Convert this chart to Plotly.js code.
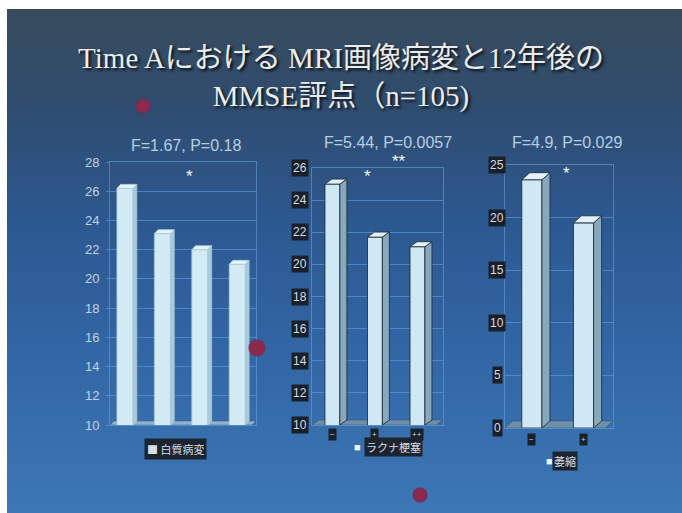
<!DOCTYPE html>
<html><head><meta charset="utf-8">
<script src="https://cdn.plot.ly/plotly-3.0.1.min.js"></script>
<style>
html,body{margin:0;padding:0;background:#fff;}
#wrap{position:relative;width:682px;height:513px;overflow:hidden;background:#fff;}
#bg{position:absolute;left:7px;top:9px;width:675px;height:504px;
background:linear-gradient(180deg,#374b5c 0%,#2f4d70 20%,#2c5890 42%,#3266a5 68%,#3d77b5 100%);}
#chart{position:absolute;left:0;top:0;width:682px;height:513px;}
</style></head><body>
<div id="wrap"><div id="bg"></div><div id="chart"></div></div>
<script>
// ---------- data ----------
const titleLine1 = 'Time Aにおける MRI画像病変と12年後の';
const titleLine2 = 'MMSE評点（n=105)';

const wmlLabel = '白質病変';
const wmlCats = ['0', '1', '2', '3'];
const wmlMmse = [26.2, 23.1, 22.0, 21.0];
const wmlStat = 'F=1.67, P=0.18';
const wmlTicks = [10, 12, 14, 16, 18, 20, 22, 24, 26, 28];
const wmlSig = ['*'];

const lacLabel = 'ラクナ梗塞';
const lacCats = ['−', '+', '++'];
const lacMmse = [25.0, 21.7, 21.1];
const lacStat = 'F=5.44, P=0.0057';
const lacTicks = [10, 12, 14, 16, 18, 20, 22, 24, 26];
const lacSig = ['*', '**'];

const atrLabel = '萎縮';
const atrCats = ['−', '+'];
const atrMmse = [23.6, 19.5];
const atrStat = 'F=4.9, P=0.029';
const atrTicks = [0, 5, 10, 15, 20, 25];
const atrSig = ['*'];

// ---------- layout helpers ----------
const W = 682, H = 513;
const px = x => x / W;
const py = y => 1 - y / H;

const panels = [
  {cats: wmlCats, vals: wmlMmse, label: wmlLabel, stat: wmlStat, ticks: wmlTicks, sig: wmlSig,
   yr: [10, 28], xr: [-0.4, 3.5], xd: [110, 256], yd: [425, 162], w: 0.43, dx: 0.1, dy: 0.27,
   front: '#d2ebf5', side: '#a9cadb', top: '#e6f5fb', edge: '#a9c9da', floor: '#90b2cc',
   boxedTicks: false, statPos: [186, 145], sigPos: [[190, 176]],
   legend: {box: [175, 449], square: null}},
  {cats: lacCats, vals: lacMmse, label: lacLabel, stat: lacStat, ticks: lacTicks, sig: lacSig,
   yr: [10, 26], xr: [-0.48, 2.6], xd: [312, 443], yd: [425, 168], w: 0.35, dx: 0.165, dy: 0.31,
   front: '#d0e8f4', side: '#88a8bb', top: '#e2f3fa', edge: '#1b2633', floor: '#6f8fa8',
   boxedTicks: true, tickX: 300, xTickY: 434, statPos: [388, 143], sigPos: [[367, 176], [399, 161]],
   legend: {box: [393, 447], square: [357, 447]}},
  {cats: atrCats, vals: atrMmse, label: atrLabel, stat: atrStat, ticks: atrTicks, sig: atrSig,
   yr: [0, 25], xr: [-0.52, 1.57], xd: [505, 613], yd: [428, 165], w: 0.39, dx: 0.155, dy: 0.67,
   front: '#d0e8f4', side: '#88a8bb', top: '#e2f3fa', edge: '#1b2633', floor: '#6f8fa8',
   boxedTicks: true, tickX: 497, xTickY: 439, statPos: [567, 143], sigPos: [[566, 173]],
   legend: {box: [565, 461], square: [549, 461]}}
];

const traces = [], shapes = [], annotations = [];
const layout = {
  width: W, height: H,
  margin: {l: 0, r: 0, t: 0, b: 0},
  paper_bgcolor: 'rgba(0,0,0,0)', plot_bgcolor: 'rgba(0,0,0,0)',
  showlegend: false,
  font: {family: 'Liberation Sans, Arial, sans-serif', color: '#c8d6e6'},
  title: {
    text: titleLine1 + '<br>' + titleLine2,
    x: 0.5, xanchor: 'center', y: py(68), yanchor: 'top',
    font: {family: 'Liberation Serif, Noto Sans CJK JP, serif', size: 29, color: '#ececec',
           shadow: '2px 2px 3px rgba(0,0,0,0.85)'}
  }
};

const gridCol = 'rgba(95,155,225,0.65)';
const lineCol = 'rgba(110,165,230,0.55)';

function note(o) {
  return Object.assign({showarrow: false, xanchor: 'center', yanchor: 'middle'}, o);
}

panels.forEach((p, k) => {
  const n = k === 0 ? '' : String(k + 1);
  const xa = 'x' + n, ya = 'y' + n;
  const idx = p.cats.map((_, i) => i);

  layout['xaxis' + n] = {
    domain: [px(p.xd[0]), px(p.xd[1])], range: p.xr, anchor: ya,
    showgrid: false, zeroline: false, showticklabels: false,
    showline: true, mirror: true, linecolor: lineCol, linewidth: 1,
    tickvals: idx, ticktext: p.cats, fixedrange: true
  };
  layout['yaxis' + n] = {
    domain: [py(p.yd[0]), py(p.yd[1])], range: p.yr, anchor: xa,
    tickvals: p.ticks, showgrid: true, gridcolor: gridCol, gridwidth: 1,
    zeroline: false, showline: true, mirror: true, linecolor: lineCol,
    showticklabels: !p.boxedTicks, ticks: p.boxedTicks ? '' : 'outside', ticklen: 3,
    tickcolor: lineCol, ticklabelstandoff: 4,
    tickfont: {family: 'Liberation Sans Narrow, Liberation Sans, Arial', size: 13, color: '#c4d2e2'},
    fixedrange: true
  };

  traces.push({
    type: 'bar', x: idx, y: p.vals, width: p.w, xaxis: xa, yaxis: ya,
    name: p.label, hoverinfo: 'skip',
    marker: {color: p.front, line: {color: p.edge, width: 0.8}}
  });

  const base = p.yr[0];
  shapes.push({
    type: 'path', xref: xa, yref: ya, layer: 'between',
    path: `M ${p.xr[0]} ${base} L ${p.xr[1] - p.dx} ${base} L ${p.xr[1]} ${base + p.dy} L ${p.xr[0] + p.dx} ${base + p.dy} Z`,
    fillcolor: p.floor, line: {color: 'rgba(40,60,80,0.6)', width: 0.6}
  });
  p.vals.forEach((v, i) => {
    const r = i + p.w / 2, l = i - p.w / 2;
    shapes.push({
      type: 'path', xref: xa, yref: ya, layer: 'above',
      path: `M ${r} ${base} L ${r + p.dx} ${base + p.dy} L ${r + p.dx} ${v + p.dy} L ${r} ${v} Z`,
      fillcolor: p.side, line: {color: p.edge, width: 0.8}
    });
    shapes.push({
      type: 'path', xref: xa, yref: ya, layer: 'above',
      path: `M ${l} ${v} L ${l + p.dx} ${v + p.dy} L ${r + p.dx} ${v + p.dy} L ${r} ${v} Z`,
      fillcolor: p.top, line: {color: p.edge, width: 0.8}
    });
  });

  if (p.boxedTicks) {
    p.ticks.forEach(t => annotations.push(note({
      xref: 'paper', yref: ya, x: px(p.tickX), y: t, text: String(t),
      bgcolor: '#1a2029', borderpad: 1,
      font: {family: 'Liberation Sans Narrow, Liberation Sans, Arial', size: 12, color: '#d4dce6'}
    })));
    p.cats.forEach((c, i) => annotations.push(note({
      xref: xa, yref: 'paper', x: i, y: py(p.xTickY), text: c,
      bgcolor: '#1a2029', borderpad: 1,
      font: {family: 'Liberation Sans, Arial', size: 8, color: '#c8d0da'}
    })));
  }

  annotations.push(note({
    xref: 'paper', yref: 'paper', x: px(p.statPos[0]), y: py(p.statPos[1]), text: p.stat,
    font: {family: 'Liberation Sans, Arial', size: 16, color: '#b9cde2'}
  }));
  p.sig.forEach((s, j) => annotations.push(note({
    xref: 'paper', yref: 'paper', x: px(p.sigPos[j][0]), y: py(p.sigPos[j][1]), text: s,
    font: {family: 'Liberation Sans, Arial', size: 17, color: '#f4f8fc'}
  })));
  if (p.legend.square) {
    annotations.push(note({
      xref: 'paper', yref: 'paper', x: px(p.legend.square[0]), y: py(p.legend.square[1]),
      text: '■', font: {size: 11, color: '#e8f4fa'}
    }));
    annotations.push(note({
      xref: 'paper', yref: 'paper', x: px(p.legend.box[0]), y: py(p.legend.box[1]),
      text: p.label, bgcolor: '#1c2430', borderpad: 1,
      font: {family: 'Noto Sans CJK JP, sans-serif', size: 11, color: '#d8dee6'}
    }));
  } else {
    annotations.push(note({
      xref: 'paper', yref: 'paper', x: px(p.legend.box[0]), y: py(p.legend.box[1]),
      text: '■ ' + p.label, bgcolor: '#1c2430', borderpad: 2,
      font: {family: 'Noto Sans CJK JP, sans-serif', size: 11, color: '#d8dee6'}
    }));
  }
});

[[143, 106, 7], [257, 348, 8], [420, 495, 7]].forEach(d => shapes.push({
  type: 'circle', xref: 'paper', yref: 'paper', layer: 'above',
  x0: px(d[0] - d[2]), x1: px(d[0] + d[2]), y0: py(d[1] + d[2]), y1: py(d[1] - d[2]),
  fillcolor: '#8a2a4c', line: {color: 'rgba(120,40,80,0.6)', width: 1.5}
}));

layout.shapes = shapes;
layout.annotations = annotations;

Plotly.newPlot('chart', traces, layout, {displayModeBar: false, staticPlot: true});
</script>
</body></html>
